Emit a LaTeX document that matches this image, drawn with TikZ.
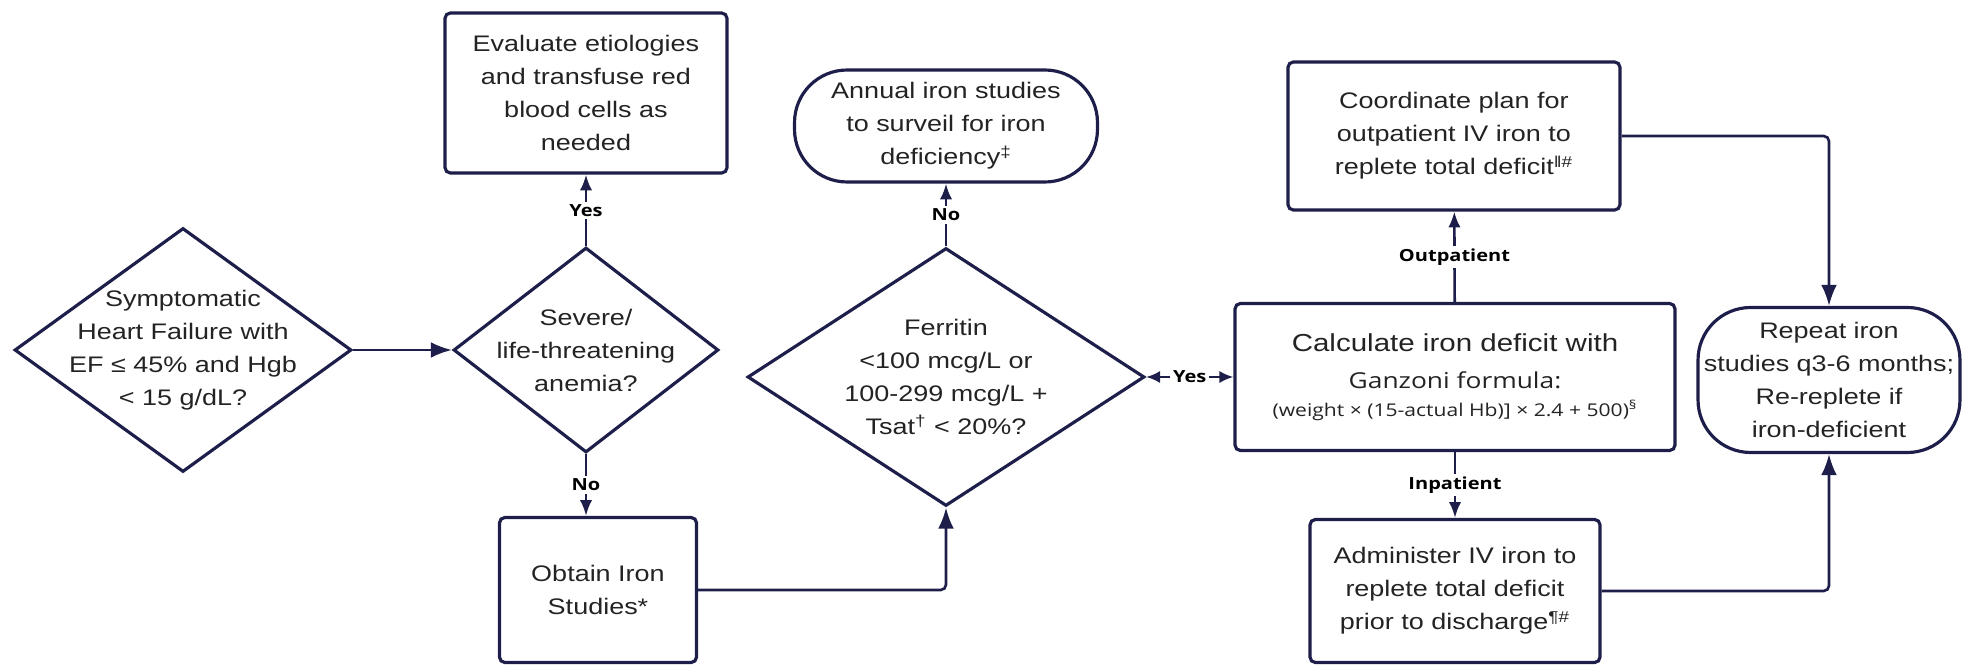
\documentclass[tikz,border=0pt]{standalone}
\usepackage{fontspec}
\setmainfont{Liberation Sans}[FakeStretch=1.2]
\newfontfamily\formulafont{Open Sans}[FakeStretch=1.2]
\usepackage{tikz}
\usetikzlibrary{
	shapes.geometric,
	arrows.meta
}
\definecolor{linecol}{RGB}{30,30,75}
\definecolor{textcol}{RGB}{35,35,35}
\newcommand{\mainsize}{\fontsize{12.8}{18.8}\selectfont}
\newcommand{\answersize}{\formulafont\bfseries\fontsize{9.5}{11}\selectfont}

\begin{document}
\begin{tikzpicture}[
    x=0.02cm, y=-0.02cm,
    box/.style={rectangle, rounded corners=3pt, draw=linecol, line width=1.8pt, align=center, text=textcol, font=\mainsize, inner sep=0pt},
    terminal/.style={box, rounded corners=1.05cm},
    decision/.style={diamond, draw=linecol, line width=1.8pt, inner sep=0pt},
    question/.style={align=center, text=textcol, font=\mainsize, inner sep=0pt},
    arrow/.style={-{Latex[length=12pt, width=9pt]}, draw=linecol, line width=1.5pt},
    shortarrow/.style={-{Latex[length=9pt, width=7pt]}, draw=linecol, line width=1.5pt},
    twoarrow/.style={{Latex[length=8pt, width=7pt]}-{Latex[length=8pt, width=7pt]}, draw=linecol, line width=1.5pt},
    answer/.style={fill=white, text=black, font=\answersize, inner sep=1.5pt}
]
\useasboundingbox (0,0) rectangle (1962,665);

% decisions
\node[decision, minimum width=6.74cm, minimum height=4.88cm] (hf) at (183,350) {};
\node[question] (hfq) at (hf) {Symptomatic\\Heart Failure with\\EF ≤ 45\% and Hgb\\< 15 g/dL?};
\node[decision, minimum width=5.3cm, minimum height=4.1cm] (severe) at (586,350) {};
\node[question] (severeq) at (severe) {Severe/\\life-threatening\\anemia?};
\node[decision, minimum width=7.94cm, minimum height=5.16cm] (ferritin) at (946,377) {};
\node[question] (ferritinq) at (ferritin) {Ferritin\\<100 mcg/L or\\100-299 mcg/L +\\Tsat\textsuperscript{†} < 20\%?};

% actions
\node[box, minimum width=5.64cm, minimum height=3.2cm] (evaluate) at (586,93) {Evaluate etiologies\\and transfuse red\\blood cells as\\needed};
\node[box, minimum width=3.94cm, minimum height=2.9cm] (obtain) at (598,590) {Obtain Iron\\Studies*};
\node[terminal, minimum width=6.06cm, minimum height=2.24cm] (annual) at (946,126) {Annual iron studies\\to surveil for iron\\deficiency\textsuperscript{‡}};
\node[box, minimum width=8.8cm, minimum height=2.94cm, font=\fontsize{14}{21}\selectfont] (calc) at (1455,377)
    {Calculate iron deficit with\\[0pt]
     {\formulafont\fontsize{12.5}{14}\selectfont Ganzoni formula:}\\[-5pt]
     {\formulafont\fontsize{10}{12}\selectfont (weight × (15-actual Hb)] × 2.4 + 500)\textsuperscript{§}}};
\node[box, minimum width=6.64cm, minimum height=2.96cm] (plan) at (1454,136) {Coordinate plan for\\outpatient IV iron to\\replete total deficit\textsuperscript{‖\#}};
\node[box, minimum width=5.8cm, minimum height=2.86cm] (administer) at (1455,591) {Administer IV iron to\\replete total deficit\\prior to discharge\textsuperscript{¶\#}};
\node[terminal, minimum width=5.24cm, minimum height=2.9cm] (repeat) at (1829,380) {Repeat iron\\studies q3-6 months;\\Re-replete if\\iron-deficient};

% connectors
\draw[arrow] (hf) -- (severe);
\draw[shortarrow] (severe) -- node[answer] {Yes} (evaluate);
\draw[shortarrow] (severe.south) -- node[answer] {No} (severe.south |- obtain.north);
\draw[arrow, rounded corners=3pt] (obtain.east) -| (ferritin.south);
\draw[shortarrow] (ferritin) -- node[answer] {No} (annual);
\draw[twoarrow] (ferritin.east) -- node[answer] {Yes} (calc.west);
\draw[shortarrow] (calc) -- node[answer] {Outpatient} (plan);
\draw[shortarrow] (calc) -- node[answer] {Inpatient} (administer);
\draw[arrow, rounded corners=3pt] (plan.east) -| (repeat.north);
\draw[arrow, rounded corners=3pt] (administer.east) -| (repeat.south);
\end{tikzpicture}
\end{document}
